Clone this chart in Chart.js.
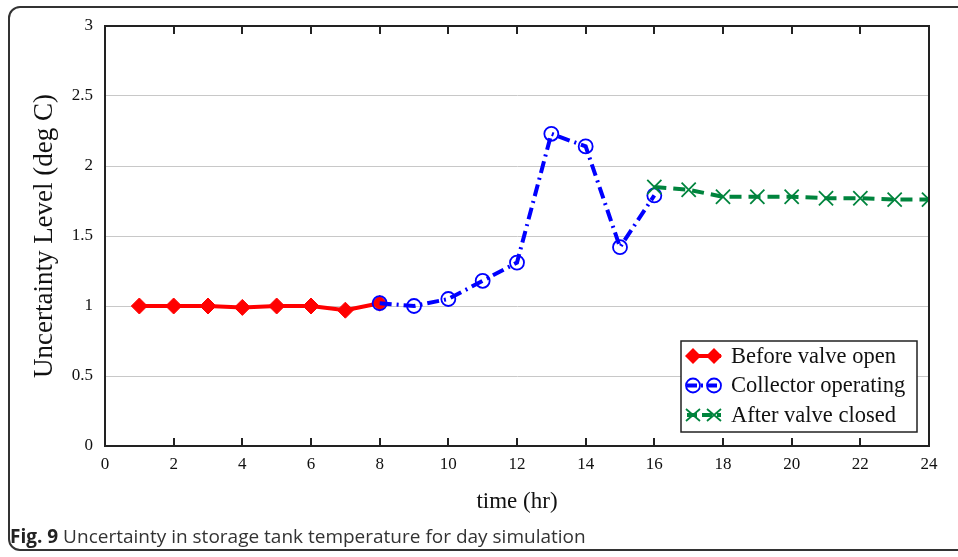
<!DOCTYPE html>
<html>
<head>
<meta charset="utf-8">
<script src="https://cdn.jsdelivr.net/npm/chart.js@4.4.0/dist/chart.umd.min.js"></script>
<style>
html,body{margin:0;padding:0;background:#fff;width:958px;height:557px;overflow:hidden;}
#frame{position:absolute;left:8px;top:6px;width:1000px;height:545px;border:2px solid #333;border-radius:12px;box-sizing:border-box;}
#wrap{position:absolute;left:0;top:0;width:958px;height:557px;}
#caption{position:absolute;left:10px;top:523px;font-family:"Open Sans",sans-serif;font-size:19px;line-height:26px;color:#333;white-space:nowrap;}
#caption b{color:#222;}
</style>
</head>
<body>
<div id="frame"></div>
<div id="wrap"><canvas id="chart" width="958" height="557"></canvas></div>
<div id="caption"><b>Fig. 9</b> Uncertainty in storage tank temperature for day simulation</div>
<script>
// data
const beforeHours=[1,2,3,4,5,6,7,8];
const beforeValues=[1.0,1.0,1.0,0.99,1.0,1.0,0.97,1.02];
const collectorHours=[8,9,10,11,12,13,14,15,16];
const collectorValues=[1.02,1.0,1.05,1.18,1.31,2.23,2.14,1.42,1.79];
const afterHours=[16,17,18,19,20,21,22,23,24];
const afterValues=[1.85,1.83,1.78,1.78,1.78,1.77,1.77,1.76,1.76];
const seriesNames=['Before valve open','Collector operating','After valve closed'];
const xTicks=[0,2,4,6,8,10,12,14,16,18,20,22,24];

const RED='#ff0000',BLUE='#0000ff',GREEN='#00843d';
const serif='"Liberation Serif","Times New Roman",serif';

function pts(xs,ys){return xs.map((x,i)=>({x:x,y:ys[i]}));}

// frame + inward ticks on bottom/top
const framePlugin={
    id:'framePlugin',
    afterDatasetsDraw(chart){
        const ctx=chart.ctx,a=chart.chartArea,sx=chart.scales.x;
        ctx.save();
        ctx.strokeStyle='#222';
        ctx.lineWidth=2;
        ctx.strokeRect(a.left,a.top,a.right-a.left,a.bottom-a.top);
        xTicks.slice(1,-1).forEach(v=>{
            const px=Math.round(sx.getPixelForValue(v));
            ctx.beginPath();
            ctx.moveTo(px,a.bottom);ctx.lineTo(px,a.bottom-8);
            ctx.moveTo(px,a.top);ctx.lineTo(px,a.top+8);
            ctx.stroke();
        });
        ctx.restore();
    }
};

function marker(ctx,style,x,y){
    ctx.save();
    if(style==='diamond'){
        ctx.fillStyle=RED;
        ctx.beginPath();
        ctx.moveTo(x-8,y);ctx.lineTo(x,y-8);ctx.lineTo(x+8,y);ctx.lineTo(x,y+8);ctx.closePath();
        ctx.fill();
    }else if(style==='circle'){
        ctx.strokeStyle=BLUE;ctx.lineWidth=1.8;
        ctx.beginPath();ctx.arc(x,y,7,0,Math.PI*2);ctx.stroke();
    }else{
        ctx.strokeStyle=GREEN;ctx.lineWidth=1.8;
        ctx.beginPath();
        ctx.moveTo(x-7,y-6);ctx.lineTo(x+7,y+6);
        ctx.moveTo(x-7,y+6);ctx.lineTo(x+7,y-6);
        ctx.stroke();
    }
    ctx.restore();
}

// legend with a line sample and two markers, like the original
const legendPlugin={
    id:'legendPlugin',
    afterDraw(chart){
        const ctx=chart.ctx;
        const bx=681,by=341,bw=236,bh=91;
        ctx.save();
        ctx.fillStyle='#fff';
        ctx.fillRect(bx,by,bw,bh);
        ctx.strokeStyle='#222';ctx.lineWidth=1.5;
        ctx.strokeRect(bx,by,bw,bh);
        const styles=[
            {c:RED,dash:[],m:'diamond'},
            {c:BLUE,dash:[10,4,2,4],m:'circle'},
            {c:GREEN,dash:[10,5],m:'cross'}
        ];
        styles.forEach((s,i)=>{
            const y=by+15+i*29.5;
            ctx.strokeStyle=s.c;ctx.lineWidth=4;ctx.setLineDash(s.dash);
            ctx.beginPath();ctx.moveTo(687,y);ctx.lineTo(721,y);ctx.stroke();
            ctx.setLineDash([]);
            marker(ctx,s.m,693,y);
            marker(ctx,s.m,714,y);
            ctx.fillStyle='#111';
            ctx.font='22.5px '+serif;
            ctx.textBaseline='middle';
            ctx.fillText(seriesNames[i],731,y+1);
        });
        ctx.restore();
    }
};

new Chart(document.getElementById('chart'),{
    type:'line',
    data:{
        datasets:[
            {label:seriesNames[0],data:pts(beforeHours,beforeValues),order:3,
             borderColor:RED,backgroundColor:RED,borderWidth:4,
             pointStyle:'rectRot',pointRadius:8,pointBackgroundColor:RED,pointBorderColor:RED,pointBorderWidth:1},
            {label:seriesNames[1],data:pts(collectorHours,collectorValues),order:2,
             borderColor:BLUE,borderWidth:4,borderDash:[12,5,2,5],
             pointStyle:'circle',pointRadius:7,pointBackgroundColor:'rgba(0,0,0,0)',pointBorderColor:BLUE,pointBorderWidth:1.8},
            {label:seriesNames[2],data:pts(afterHours,afterValues),order:1,
             borderColor:GREEN,borderWidth:4,borderDash:[12,7],
             pointStyle:'crossRot',pointRadius:10,pointBorderColor:GREEN,pointBorderWidth:1.8}
        ]
    },
    options:{
        responsive:false,
        animation:false,
        layout:{padding:{left:0,right:29,top:26,bottom:41}},
        plugins:{legend:{display:false},tooltip:{enabled:false}},
        scales:{
            x:{
                type:'linear',min:0,max:24,
                afterBuildTicks(s){s.ticks=xTicks.map(v=>({value:v}));},
                afterFit(s){s.height=70;},
                grid:{display:false,drawTicks:false},
                border:{display:true,color:'#222',width:2},
                ticks:{padding:8,color:'#111',font:{family:serif,size:17},maxRotation:0},
                title:{display:true,text:'time (hr)',color:'#111',font:{family:serif,size:23},padding:{top:5,bottom:0}}
            },
            y:{
                min:0,max:3,
                ticks:{stepSize:0.5,padding:12,color:'#111',font:{family:serif,size:17},
                    callback:v=>String(v)},
                afterFit(s){s.width=105;},
                grid:{color:'#c8c8c8',lineWidth:1,drawTicks:false},
                border:{display:true,color:'#222',width:2},
                title:{display:true,text:'Uncertainty Level (deg C)',color:'#111',font:{family:serif,size:27},padding:{top:29,bottom:0}}
            }
        }
    },
    plugins:[framePlugin,legendPlugin]
});
</script>
</body>
</html>
